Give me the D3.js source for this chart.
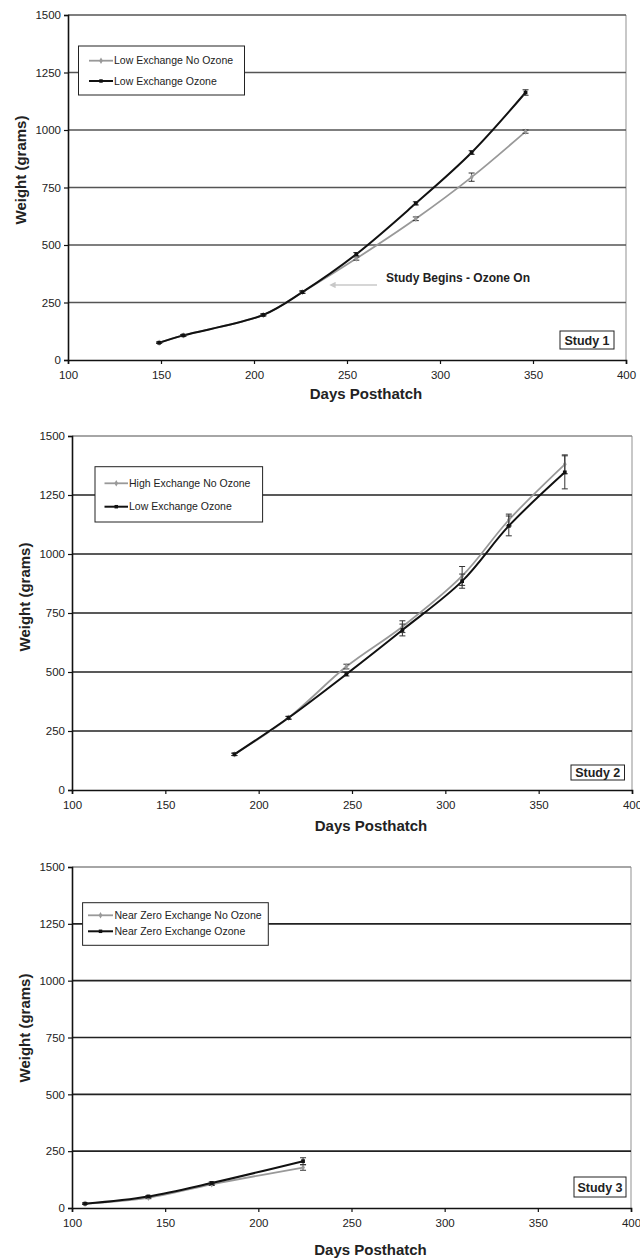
<!DOCTYPE html>
<html>
<head>
<meta charset="utf-8">
<script src="https://cdn.jsdelivr.net/npm/d3@7"></script>
<style>
  body { margin: 0; background: #fff; }
  text { font-family: "Liberation Sans", Arial, sans-serif; }
</style>
</head>
<body>
<script>
// tick values shared by all three panels
var xTicks = [100, 150, 200, 250, 300, 350, 400];
var yTicks = [0, 250, 500, 750, 1000, 1250, 1500];

// Study 1
var study1Days = [149, 162, 205, 226, 255, 287, 317, 346];
var study1NoOzone = [75, 107, 196, 295, 441, 614, 795, 993];
var study1NoOzoneErr = [3, 4, 4, 5, 7, 8, 18, 7];
var study1Ozone = [75, 107, 196, 295, 460, 681, 902, 1163];
var study1OzoneErr = [3, 4, 4, 5, 7, 7, 8, 12];

// Study 2
var study2Days = [187, 216, 247, 277, 309, 334, 364];
var study2NoOzone = [151, 306, 523, 692, 907, 1144, 1380];
var study2NoOzoneErr = [5, 6, 10, 25, 40, 25, 40];
var study2Ozone = [151, 306, 491, 678, 885, 1119, 1346];
var study2OzoneErr = [5, 6, 8, 25, 30, 42, 70];

// Study 3
var study3Days = [107, 141, 175, 224];
var study3NoOzone = [19, 45, 104, 178];
var study3NoOzoneErr = [3, 4, 5, 12];
var study3Ozone = [19, 51, 110, 206];
var study3OzoneErr = [3, 4, 5, 15];

var svg = d3.select("body").append("svg")
    .attr("width", 640)
    .attr("height", 1258);

var zip = (days, vals, errs) => days.map((d, i) => ({ day: d, w: vals[i], err: errs[i] }));

var panels = [
  {
    box: { left: 68, right: 626, top: 15, bottom: 360 },
    gridColor: "#555", topColor: "#555",
    series: [
      { name: "Low Exchange No Ozone", data: zip(study1Days, study1NoOzone, study1NoOzoneErr), color: "#999", width: 1.8, marker: "cross" },
      { name: "Low Exchange Ozone", data: zip(study1Days, study1Ozone, study1OzoneErr), color: "#111", width: 2, marker: "square" }
    ],
    legend: { x: 78.5, y: 46, w: 166, h: 49, rows: [60.7, 81], lineX: [89, 113], textX: 114 },
    label: { text: "Study 1", x: 560, y: 331, w: 54, h: 18 },
    ytitle: 170, xtitleY: 399,
    note: true
  },
  {
    box: { left: 72, right: 632, top: 436, bottom: 790 },
    gridColor: "#222", topColor: "#888",
    series: [
      { name: "High Exchange No Ozone", data: zip(study2Days, study2NoOzone, study2NoOzoneErr), color: "#999", width: 1.8, marker: "cross" },
      { name: "Low Exchange Ozone", data: zip(study2Days, study2Ozone, study2OzoneErr), color: "#111", width: 2, marker: "square" }
    ],
    legend: { x: 95, y: 466.7, w: 167.6, h: 55.3, rows: [483.3, 506.7], lineX: [104.5, 128], textX: 129 },
    label: { text: "Study 2", x: 571, y: 765, w: 53.5, h: 15 },
    ytitle: 597, xtitleY: 831,
    note: false
  },
  {
    box: { left: 72, right: 631, top: 867, bottom: 1208 },
    gridColor: "#222", topColor: "#888",
    series: [
      { name: "Near Zero Exchange No Ozone", data: zip(study3Days, study3NoOzone, study3NoOzoneErr), color: "#999", width: 1.8, marker: "cross" },
      { name: "Near Zero Exchange Ozone", data: zip(study3Days, study3Ozone, study3OzoneErr), color: "#111", width: 2, marker: "square" }
    ],
    legend: { x: 82.6, y: 902.7, w: 185.7, h: 42.6, rows: [915.3, 931.3], lineX: [88, 113], textX: 114.5 },
    label: { text: "Study 3", x: 574, y: 1177, w: 52, h: 20 },
    ytitle: 1028, xtitleY: 1255,
    note: false
  }
];

svg.append("defs").append("marker")
    .attr("id", "arrow")
    .attr("viewBox", "0 0 10 10")
    .attr("refX", 1).attr("refY", 5)
    .attr("markerWidth", 4).attr("markerHeight", 4)
    .attr("orient", "auto-start-reverse")
    .append("path")
    .attr("d", "M0,0 L10,5 L0,10 z")
    .attr("fill", "#c8c8c8");

panels.forEach(p => {
  var b = p.box;
  var x = d3.scaleLinear().domain([100, 400]).range([b.left, b.right]);
  var y = d3.scaleLinear().domain([0, 1500]).range([b.bottom, b.top]);
  var g = svg.append("g");

  // right border
  g.append("line")
      .attr("x1", b.right).attr("x2", b.right)
      .attr("y1", b.top).attr("y2", b.bottom)
      .attr("stroke", "#c8c8c8").attr("stroke-width", 2);

  // horizontal gridlines
  g.selectAll(".grid")
      .data(yTicks.filter(v => v > 0))
      .enter().append("line")
      .attr("x1", b.left).attr("x2", b.right)
      .attr("y1", d => y(d)).attr("y2", d => y(d))
      .attr("stroke", d => d === 1500 ? p.topColor : p.gridColor)
      .attr("stroke-width", 1.7);

  // axes
  var ya = g.append("g")
      .attr("transform", `translate(${b.left},0)`)
      .call(d3.axisLeft(y).tickValues(yTicks).tickSize(4).tickPadding(3).tickFormat(d3.format("d")));
  var xa = g.append("g")
      .attr("transform", `translate(0,${b.bottom})`)
      .call(d3.axisBottom(x).tickValues(xTicks).tickSize(4).tickPadding(7).tickFormat(d3.format("d")));
  [ya, xa].forEach(a => {
    a.select(".domain").attr("stroke", "#111").attr("stroke-width", 1.6);
    a.selectAll(".tick line").attr("stroke", "#111").attr("stroke-width", 1.2);
    a.selectAll(".tick text")
        .attr("font-family", "'Liberation Sans', Arial, sans-serif")
        .attr("font-size", "11.5px").attr("fill", "#222");
  });

  // axis titles
  g.append("text")
      .attr("transform", `translate(${b.left - 47},${p.ytitle}) rotate(-90)`)
      .attr("text-anchor", "middle")
      .attr("dy", "0.35em")
      .attr("font-size", "15px").attr("font-weight", "bold").attr("fill", "#222")
      .text("Weight (grams)");
  g.append("text")
      .attr("x", (x(100) + x(400)) / 2 + 19)
      .attr("y", p.xtitleY)
      .attr("text-anchor", "middle")
      .attr("font-size", "15px").attr("font-weight", "bold").attr("fill", "#222")
      .text("Days Posthatch");

  // annotation for study 1
  if (p.note) {
    g.append("line")
        .attr("x1", 377).attr("x2", 335)
        .attr("y1", 285).attr("y2", 285)
        .attr("stroke", "#c8c8c8").attr("stroke-width", 1.6)
        .attr("marker-end", "url(#arrow)");
    g.append("text")
        .attr("x", 386).attr("y", 282)
        .attr("font-size", "12px").attr("font-weight", "bold").attr("fill", "#222")
        .text("Study Begins - Ozone On");
  }

  var line = d3.line()
      .x(d => x(d.day))
      .y(d => y(d.w))
      .curve(d3.curveCatmullRom.alpha(0.5));

  p.series.forEach(s => {
    g.append("path")
        .datum(s.data)
        .attr("fill", "none")
        .attr("stroke", s.color)
        .attr("stroke-width", s.width)
        .attr("d", line);

    // error bars
    var eb = g.append("g").selectAll("g").data(s.data).enter().append("g");
    eb.append("line")
        .attr("x1", d => x(d.day)).attr("x2", d => x(d.day))
        .attr("y1", d => y(d.w - d.err)).attr("y2", d => y(d.w + d.err))
        .attr("stroke", "#333").attr("stroke-width", 1);
    [-1, 1].forEach(sign => {
      eb.append("line")
          .attr("x1", d => x(d.day) - 3).attr("x2", d => x(d.day) + 3)
          .attr("y1", d => y(d.w + sign * d.err)).attr("y2", d => y(d.w + sign * d.err))
          .attr("stroke", "#333").attr("stroke-width", 1);
    });

    // markers
    var sym = s.marker === "square" ? d3.symbolSquare : d3.symbolDiamond;
    g.append("g").selectAll("path").data(s.data).enter().append("path")
        .attr("transform", d => `translate(${x(d.day)},${y(d.w)})`)
        .attr("d", d3.symbol().type(sym).size(s.marker === "square" ? 14 : 12))
        .attr("fill", s.color);
  });

  // legend
  var L = p.legend;
  var lg = g.append("g");
  lg.append("rect")
      .attr("x", L.x).attr("y", L.y).attr("width", L.w).attr("height", L.h)
      .attr("fill", "#fff").attr("stroke", "#222").attr("stroke-width", 1);
  p.series.forEach((s, i) => {
    var ry = L.rows[i];
    lg.append("line")
        .attr("x1", L.lineX[0]).attr("x2", L.lineX[1])
        .attr("y1", ry).attr("y2", ry)
        .attr("stroke", s.color).attr("stroke-width", s.width);
    var sym = s.marker === "square" ? d3.symbolSquare : d3.symbolDiamond;
    lg.append("path")
        .attr("transform", `translate(${(L.lineX[0] + L.lineX[1]) / 2},${ry})`)
        .attr("d", d3.symbol().type(sym).size(12))
        .attr("fill", s.color);
    lg.append("text")
        .attr("x", L.textX).attr("y", ry)
        .attr("dy", "0.35em")
        .attr("font-size", "10.5px").attr("fill", "#222")
        .text(s.name);
  });

  // study label box
  var S = p.label;
  g.append("rect")
      .attr("x", S.x).attr("y", S.y).attr("width", S.w).attr("height", S.h)
      .attr("fill", "#fff").attr("stroke", "#222").attr("stroke-width", 1);
  g.append("text")
      .attr("x", S.x + S.w / 2).attr("y", S.y + S.h / 2)
      .attr("dy", "0.36em").attr("text-anchor", "middle")
      .attr("font-size", "12.5px").attr("font-weight", "bold").attr("fill", "#222")
      .text(S.text);
});
</script>
</body>
</html>
